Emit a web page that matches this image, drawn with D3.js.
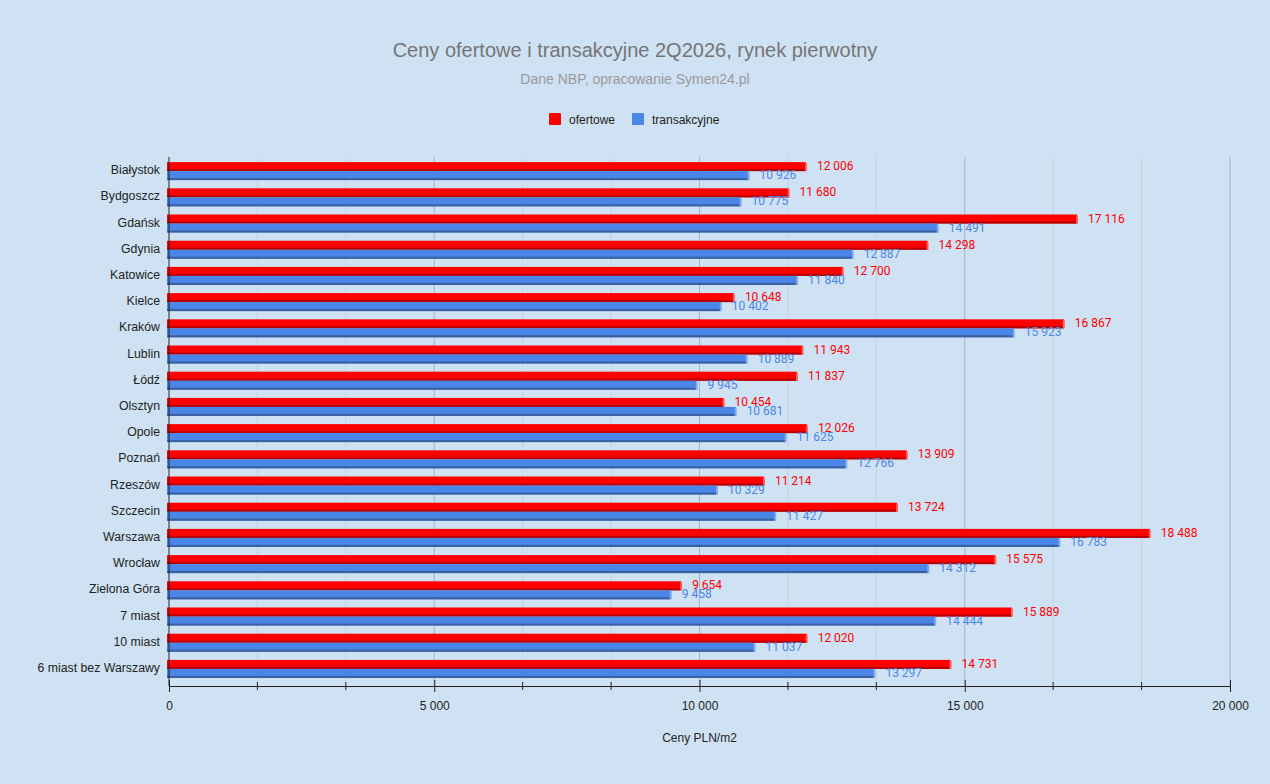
<!DOCTYPE html>
<html>
<head>
<meta charset="utf-8">
<script src="https://cdn.jsdelivr.net/npm/d3@7/dist/d3.min.js"></script>
<style>
  body { margin: 0; background: #cfe2f3; }
  text { font-family: "Liberation Sans", Arial, sans-serif; }
  .val { font-family: Roboto, sans-serif; font-size: 12px; }
</style>
</head>
<body>
<div id="chart"></div>
<script>

// data
const cities = ["Białystok", "Bydgoszcz", "Gdańsk", "Gdynia", "Katowice", "Kielce", "Kraków",
  "Lublin", "Łódź", "Olsztyn", "Opole", "Poznań", "Rzeszów", "Szczecin", "Warszawa",
  "Wrocław", "Zielona Góra", "7 miast", "10 miast", "6 miast bez Warszawy"];
const ofertowe = [12006, 11680, 17116, 14298, 12700, 10648, 16867, 11943, 11837, 10454,
  12026, 13909, 11214, 13724, 18488, 15575, 9654, 15889, 12020, 14731];
const transakcyjne = [10926, 10775, 14491, 12887, 11840, 10402, 15923, 10889, 9945, 10681,
  11625, 12766, 10329, 11427, 16783, 14312, 9458, 14444, 11037, 13297];
const xTicks = [0, 5000, 10000, 15000, 20000];

const W = 1270, H = 784;
const fmt = v => d3.format(",")(v).replace(/,/g, " ");

const svg = d3.select("#chart").append("svg")
    .attr("width", W).attr("height", H);

svg.append("rect").attr("width", W).attr("height", H).attr("fill", "#cfe2f3");

const x = d3.scaleLinear().domain([0, 20000]).range([169, 1230]);
const y = d3.scaleBand().domain(cities).range([157, 681]);

// title, subtitle
svg.append("text").attr("x", 635).attr("y", 57).attr("text-anchor", "middle")
    .attr("font-size", 20).attr("fill", "#757575")
    .text("Ceny ofertowe i transakcyjne 2Q2026, rynek pierwotny");
svg.append("text").attr("x", 635).attr("y", 84).attr("text-anchor", "middle")
    .attr("font-size", 14).attr("fill", "#999999")
    .text("Dane NBP, opracowanie Symen24.pl");

// legend
const legend = [{name: "ofertowe", color: "#ff0000", x: 549},
                {name: "transakcyjne", color: "#4a86e8", x: 632}];
legend.forEach(l => {
  svg.append("rect").attr("x", l.x).attr("y", 113).attr("width", 12).attr("height", 12)
      .attr("rx", 1).attr("fill", l.color);
  svg.append("text").attr("x", l.x + 20).attr("y", 123.5)
      .attr("font-size", 12).attr("fill", "#222").text(l.name);
});

// grid lines, minor every 5000/3
const minor = d3.range(1, 12).map(i => i * 5000 / 3).filter(v => v % 5000 > 1 && v % 5000 < 4999);
svg.append("g").selectAll("line").data(minor).join("line")
    .attr("x1", d => x(d)).attr("x2", d => x(d))
    .attr("y1", 157).attr("y2", 686)
    .attr("stroke", "#c2d2df").attr("stroke-width", 1);
svg.append("g").selectAll("line").data(xTicks.slice(1)).join("line")
    .attr("x1", d => x(d)).attr("x2", d => x(d))
    .attr("y1", 157).attr("y2", 686)
    .attr("stroke", "#a3b3c2").attr("stroke-width", 1);

// bars
const series = [
  {values: ofertowe, fill: "#ff0000", dark: "#b40000", cap: "#ff5a5a", off: -8, label: "#ff0000", dy: -4},
  {values: transakcyjne, fill: "#4a86e8", dark: "#3a5f9e", cap: "#7fa8ee", off: 1, label: "#4a86e8", dy: 5}
];
const barH = 9;

series.forEach(s => {
  const g = svg.append("g");
  const rows = cities.map((c, i) => ({c, v: s.values[i]}));
  const cy = d => y(d.c) + y.bandwidth() / 2;

  g.selectAll(".bar").data(rows).join("rect")
      .attr("x", x(0) - 2).attr("y", d => cy(d) + s.off)
      .attr("width", d => x(d.v) - x(0) + 2).attr("height", barH)
      .attr("fill", s.fill);
  g.selectAll(".shadow").data(rows).join("rect")
      .attr("x", x(0) - 2).attr("y", d => cy(d) + s.off + barH - 2)
      .attr("width", d => x(d.v) - x(0) + 2).attr("height", 2)
      .attr("fill", s.dark);
  g.selectAll(".cap").data(rows).join("rect")
      .attr("x", d => x(d.v) - 1).attr("y", d => cy(d) + s.off + 1)
      .attr("width", 2).attr("height", barH - 1)
      .attr("fill", s.cap);
  g.selectAll("text").data(rows).join("text")
      .attr("class", "val")
      .attr("x", d => x(d.v) + 11).attr("y", d => cy(d) + s.dy + 4)
      .attr("fill", s.label)
      .text(d => fmt(d.v));
});

// category labels
svg.append("g").selectAll("text").data(cities).join("text")
    .attr("x", 160).attr("y", d => y(d) + y.bandwidth() / 2 + 4)
    .attr("text-anchor", "end").attr("font-size", 12.3).attr("fill", "#222")
    .text(d => d);

// left axis line
svg.append("line").attr("x1", x(0)).attr("x2", x(0)).attr("y1", 157).attr("y2", 686)
    .attr("stroke", "#222").attr("stroke-width", 1);

// bottom axis
const axisG = svg.append("g").attr("transform", "translate(0,686)");
axisG.call(d3.axisBottom(x).tickValues(xTicks).tickSize(6).tickFormat(fmt));
axisG.select(".domain").attr("stroke", "#222");
axisG.selectAll(".tick line").attr("stroke", "#222").attr("y1", -6).attr("y2", 6);
axisG.selectAll(".tick text").attr("font-family", "Liberation Sans, Arial, sans-serif")
    .attr("font-size", 12).attr("fill", "#222").attr("dy", 0).attr("y", 24);
axisG.selectAll(".minor").data(minor).join("line").attr("class", "minor")
    .attr("x1", d => x(d)).attr("x2", d => x(d)).attr("y1", -4).attr("y2", 4)
    .attr("stroke", "#222");

svg.append("text").attr("x", (x(0) + x(20000)) / 2).attr("y", 742)
    .attr("text-anchor", "middle").attr("font-size", 12).attr("fill", "#222")
    .text("Ceny PLN/m2");

</script>
</body>
</html>
